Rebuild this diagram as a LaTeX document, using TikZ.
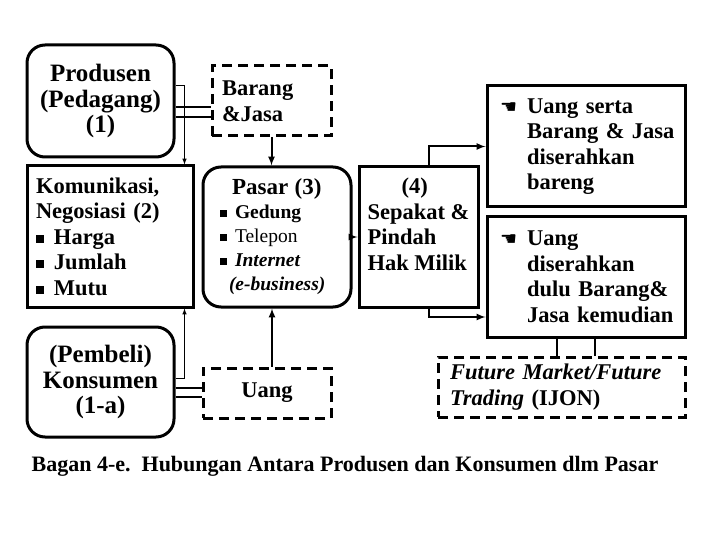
\documentclass[tikz,border=0pt]{standalone}
\usepackage{fontspec}
\setmainfont{Liberation Serif}
\newfontfamily\handfont{DejaVu Sans}
\usepackage{tikz}
\usetikzlibrary{arrows}
\newcommand{\sqb}{\rule[1.5pt]{8pt}{8pt}\hspace{10pt}}
\newcommand{\sqs}{\rule[1.5pt]{7pt}{7pt}\hspace{8pt}}
\newcommand{\hand}{\makebox[36pt][l]{\hspace{9pt}\handfont\fontsize{19}{19}\selectfont ☚}}
\newcommand{\ind}{\hspace*{36pt}}

\begin{document}
\begin{tikzpicture}[x=1pt,y=-1pt,>=latex,
  big font/.style={font=\bfseries\fontsize{25}{25.5}\selectfont},
  main font/.style={font=\bfseries\fontsize{22.5}{25.5}\selectfont},
  round box/.style={draw,rounded corners=18pt,line width=3pt,inner sep=0pt,align=center},
  plain box/.style={draw,line width=3pt,inner ysep=4pt},
  dash box/.style={draw,line width=3pt,dash pattern=on 10pt off 6pt,inner ysep=4pt},
  link/.style={line width=2pt},
  thin link/.style={line width=1pt}]

\useasboundingbox[fill=white] (0,0) rectangle (720,540);

% left column
\node[round box,big font,minimum width=147pt,minimum height=112pt] (prod) at (100.5,101)
  {Produsen\\(Pedagang)\\(1)};
\node[plain box,main font,align=left,text width=152pt,inner xsep=7pt,minimum height=141pt] (komu) at (110,236.5)
  {\hspace*{2pt}Komunikasi,\\\hspace*{2pt}Negosiasi (2)\\\hspace*{2pt}\sqb Harga\\\hspace*{2pt}\sqb Jumlah\\\hspace*{2pt}\sqb Mutu};
\node[round box,big font,minimum width=147pt,minimum height=110pt] (kons) at (100.5,382)
  {(Pembeli)\\Konsumen\\(1-a)};

% middle column
\node[dash box,main font,align=left,text width=99pt,inner xsep=10pt,minimum height=70pt] (barang) at (271.5,101)
  {Barang\\\&Jasa};
\node[round box,font=\bfseries\fontsize{19.5}{24}\selectfont,align=left,text width=114pt,inner xsep=17pt,minimum height=140pt] (pasar) at (277,237)
  {\hspace*{12pt}{\fontsize{23}{24}\selectfont Pasar (3)}\\
   \sqs Gedung\\
   \sqs {\mdseries Telepon}\\
   \sqs \textit{Internet}\\
   \hspace*{9pt}\textit{(e-business)}};
\node[dash box,main font,minimum width=128pt,minimum height=50pt] (uang) at (267,393) {Uang};

% right part
\node[plain box,main font,align=left,minimum width=119pt,minimum height=140pt] (sepakat) at (418.5,237)
  {\hspace*{34pt}(4)\\Sepakat \&\\Pindah\\Hak Milik\\\mbox{}};
\node[plain box,main font,align=left,text width=190pt,inner xsep=4pt,minimum height=121pt] (bareng) at (586,146.5)
  {\hand Uang serta\\
   \ind Barang \& Jasa\\
   \ind diserahkan\\
   \ind bareng};
\node[plain box,main font,align=left,text width=190pt,inner xsep=4pt,minimum height=120pt] (dulu) at (586,277)
  {\hand Uang\\
   \ind diserahkan\\
   \ind dulu Barang\&\\
   \ind Jasa kemudian};
\node[dash box,main font,align=left,text width=223pt,inner xsep=12pt,minimum height=60pt] (future) at (561.5,387)
  {\textit{Future Market/Future}\\\textit{Trading} (IJON)};

\node[font=\bfseries\fontsize{22}{22}\selectfont] (caption) at (345,466)
  {Bagan 4-e.\ \ Hubungan Antara Produsen dan Konsumen dlm Pasar};

% connectors
\draw[thin link,->] ([yshift=15pt]prod.east) -| ([xshift=-10pt]komu.north east);
\draw[thin link,->] ([yshift=4pt]kons.east) -| ([xshift=-10pt]komu.south east);
\draw[link] ([yshift=-6pt]prod.east) -- ([yshift=-6pt]prod.east -| barang.west);
\draw[link] ([yshift=-16pt]prod.east) -- ([yshift=-16pt]prod.east -| barang.west);
\draw[link] ([yshift=-6pt]kons.east) -- ([yshift=-6pt]kons.east -| uang.west);
\draw[link] ([yshift=-15pt]kons.east) -- ([yshift=-15pt]kons.east -| uang.west);
\draw[link,->] (barang.south) -- (barang.south |- pasar.north);
\draw[link,->] ([xshift=5pt]uang.north) -- ([xshift=5pt]uang.north |- pasar.south);
\draw[link,->] (pasar) -- (sepakat);
\draw[link,->] ([xshift=10pt]sepakat.north) |- (bareng.west);
\draw[link,->] ([xshift=10pt]sepakat.south) |- ([yshift=-40pt]dulu.west);
\draw[link] ([xshift=-29pt]dulu.south) -- ([xshift=-29pt]dulu.south |- future.north);
\draw[link] ([xshift=9pt]dulu.south) -- ([xshift=9pt]dulu.south |- future.north);
\end{tikzpicture}
\end{document}
